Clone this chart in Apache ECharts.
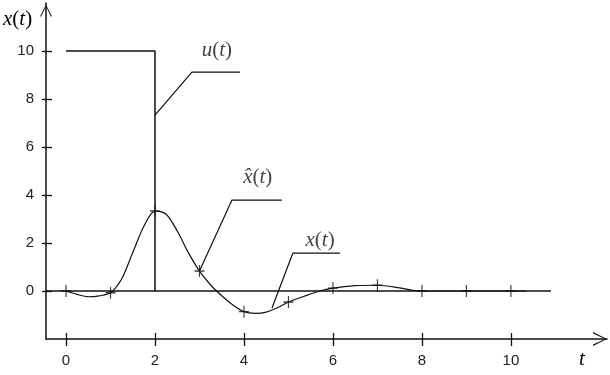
<!DOCTYPE html>
<html><head><meta charset="utf-8">
<script src="https://cdn.jsdelivr.net/npm/echarts@6/dist/echarts.min.js"></script>
<style>html,body{margin:0;padding:0;background:#fff}#c{width:610px;height:375px}</style>
</head><body><div id="c"></div>
<script>
// ---- data ----
const tickValuesX = [0, 2, 4, 6, 8, 10];
const tickValuesY = [0, 2, 4, 6, 8, 10];
const curveT = [0,0.25,0.5,0.75,1,1.25,1.5,1.75,2,2.25,2.5,2.75,3,3.25,3.5,3.75,4,4.25,4.5,4.75,5,5.35,5.7,6,6.5,7,7.5,7.8,8,9,10,10.35];
const curveX = [0,-0.14,-0.24,-0.2,-0.07,0.5,1.6,2.7,3.33,3.2,2.5,1.6,0.83,0.25,-0.2,-0.58,-0.86,-0.93,-0.88,-0.7,-0.46,-0.22,0,0.12,0.22,0.24,0.13,0.03,0,0,0,0];
const markT = [0,1,2,3,4,5,6,7,8,9,10];
const markX = [0,-0.07,3.33,0.83,-0.86,-0.46,0.12,0.24,0,0,0];
const uT = [0, 2, 2];
const uX = [10, 10, 0];
const zeroT = [-0.45, 10.9];
const zeroX = [0, 0];
const leaderU = [[2.0,7.33],[2.83,9.12],[3.91,9.12]];
const leaderXhat = [[3.01,0.88],[3.73,3.79],[4.85,3.79]];
const leaderX = [[4.63,-0.71],[5.1,1.58],[6.16,1.58]];
const labelNames = ['u', 'x\u0302', 'x'];
const labelPos = [[3.39,10.04],[4.31,4.75],[5.71,2.12]];

const ink = '#111';
const zip = (a, b) => a.map((v, i) => [v, b[i]]);
const chevron = 'path://M0,100 L50,0 L100,100 L90,100 L50,14 L10,100 Z';
const serif = '"Liberation Serif", "DejaVu Serif", serif';
const sans = '"Liberation Sans", Arial, sans-serif';
const rich = {
  i: {fontFamily: serif, fontStyle: 'italic', fontSize: 21, color: ink},
  n: {fontFamily: serif, fontSize: 21, color: ink}
};

const chart = echarts.init(document.getElementById('c'), null, {renderer: 'canvas'});
const lineSeries = (data, width, z) => ({
  type: 'line', data, symbol: 'none', silent: true, animation: false, z: z || 2,
  lineStyle: {color: ink, width: width}
});
chart.setOption({
  animation: false,
  backgroundColor: '#fff',
  grid: {left: 46, right: 3, top: 3, bottom: 36},
  xAxis: [{
    type: 'value', min: -0.45, max: 12.16, position: 'bottom',
    splitLine: {show: false},
    axisLine: {show: true, onZero: false, lineStyle: {color: ink, width: 1.5},
      symbol: ['none', chevron], symbolSize: [17, 14], symbolOffset: [0, -7]},
    axisTick: {show: true, length: 7, lineStyle: {color: ink, width: 1.3}, customValues: tickValuesX},
    axisLabel: {show: true, margin: 14, fontFamily: sans, fontSize: 15, color: '#222', customValues: tickValuesX}
  }, {
    type: 'value', min: -0.45, max: 12.16, position: 'bottom', offset: 0,
    splitLine: {show: false}, axisLine: {show: false, onZero: false},
    axisTick: {show: true, inside: true, length: 6, lineStyle: {color: ink, width: 1.3}, customValues: tickValuesX},
    axisLabel: {show: false}
  }],
  yAxis: [{
    type: 'value', min: -2, max: 12, position: 'left',
    splitLine: {show: false},
    axisLine: {show: true, onZero: false, lineStyle: {color: ink, width: 1.5},
      symbol: ['none', chevron], symbolSize: [12, 15], symbolOffset: [0, -7.5]},
    axisTick: {show: true, length: 4, lineStyle: {color: ink, width: 1.3}, customValues: tickValuesY},
    axisLabel: {show: true, margin: 12, fontFamily: sans, fontSize: 15, color: '#222', customValues: tickValuesY}
  }, {
    type: 'value', min: -2, max: 12, position: 'left', offset: 0,
    splitLine: {show: false}, axisLine: {show: false, onZero: false},
    axisTick: {show: true, inside: true, length: 6, lineStyle: {color: ink, width: 1.3}, customValues: tickValuesY},
    axisLabel: {show: false}
  }],
  graphic: [
    {type: 'text', left: 3, top: 9, style: {text: '{i|x}{n|(}{i|t}{n|)}', rich: rich}},
    {type: 'text', left: 579, top: 349, style: {text: '{i|t}', rich: rich}}
  ],
  series: [
    lineSeries(zip(zeroT, zeroX), 1.5, 2),
    lineSeries(zip(uT, uX), 1.5, 3),
    lineSeries(leaderU, 1.2, 3),
    lineSeries(leaderXhat, 1.2, 3),
    lineSeries(leaderX, 1.2, 3),
    Object.assign(lineSeries(zip(curveT, curveX), 1.2, 4), {smooth: 0.3}),
    {
      type: 'scatter', data: zip(markT, markX), silent: true, z: 5,
      symbol: 'path://M5,0 L5,12 M0,6 L10,6', symbolSize: [10, 12],
      itemStyle: {color: 'none', borderColor: ink, borderWidth: 1.3}
    },
    {
      type: 'scatter', silent: true, z: 6, symbolSize: 1,
      itemStyle: {color: 'rgba(0,0,0,0)'},
      data: labelPos.map((p, i) => ({value: p, name: labelNames[i]})),
      label: {show: true, position: 'inside',
        formatter: p => '{i|' + p.name + '}{n|(}{i|t}{n|)}', rich: rich}
    }
  ]
});
</script>
</body></html>
